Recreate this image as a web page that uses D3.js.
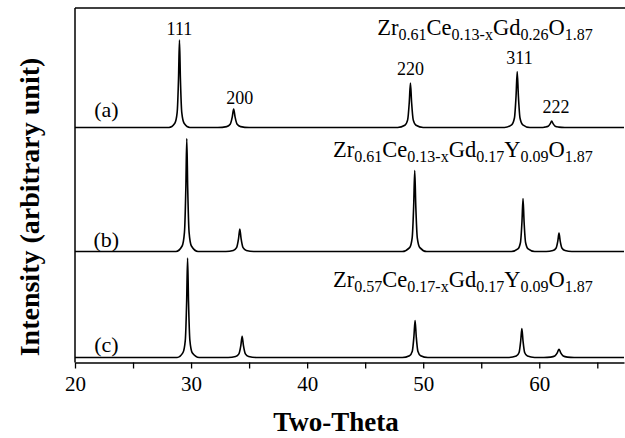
<!DOCTYPE html>
<html><head><meta charset="utf-8">
<script src="https://cdn.jsdelivr.net/npm/d3@7"></script>
<style>
body{margin:0;background:#fff}
svg{display:block}
text{font-family:"Liberation Serif","Times New Roman",Times,serif;fill:#000}
</style>
</head><body>
<svg id="chart" width="625" height="438"></svg>
<script>
// ---- data ----
const xTicks = [20,25,30,35,40,45,50,55,60,65];
const xTickLabels = ["20","","30","","40","","50","","60",""];
const xDomain = [20, 67.3];
const yDomain = [0, 354.5];
const seriesNames = ["(a)","(b)","(c)"];
const offsets = [235, 111, 5];          // vertical stacking offset of each pattern
const nameLevels = [11, 4.5, 6];        // label height above each baseline
const hkl = ["111","200","220","311","222"];
const hklLabelX = [29.0, 34.2, 48.9, 58.3, 61.45];
const hklLabelLevel = [92.5, 23.5, 52.5, 63.5, 15];
const formulaA = [["Zr","0.61"],["Ce","0.13-x"],["Gd","0.26"],["O","1.87"]];
const formulaB = [["Zr","0.61"],["Ce","0.13-x"],["Gd","0.17"],["Y","0.09"],["O","1.87"]];
const formulaC = [["Zr","0.57"],["Ce","0.17-x"],["Gd","0.17"],["Y","0.09"],["O","1.87"]];
const formulaLevels = [92.5, 94.5, 70.5];

const seriesA = [
[20,0],
[28.1,0],[28.6,4.2],[28.8,14.8],[28.92,49.2],[29.0,87.5],[29.08,49.2],[29.2,14.8],[29.4,4.2],[29.9,0],
[32.3,0],[33.07,0.9],[33.37,3.2],[33.55,10.6],[33.67,18.5],[33.79,10.6],[33.97,3.2],[34.27,0.9],[35.0,0],
[47.8,0],[48.42,2.2],[48.66,7.6],[48.8,25.2],[48.9,44.5],[49.0,25.2],[49.14,7.6],[49.38,2.2],[50.0,0],
[57.0,0],[57.62,2.7],[57.86,9.5],[58.0,31.6],[58.1,56],[58.2,31.6],[58.34,9.5],[58.58,2.7],[59.2,0],
[60.2,0],[60.47,0.4],[60.77,1.2],[60.95,3.9],[61.07,6.5],[61.19,3.9],[61.37,1.2],[61.67,0.4],[62.2,0],
[67.3,0]
];
const seriesB = [
[20,0],
[28.7,0],[29.23,5.5],[29.43,19.1],[29.55,63.6],[29.63,113],[29.71,63.6],[29.83,19.1],[30.03,5.5],[30.6,0],
[33.0,0],[33.64,1.1],[33.92,3.9],[34.09,12.9],[34.2,22.5],[34.31,12.9],[34.48,3.9],[34.76,1.1],[35.4,0],
[48.2,0],[48.83,3.9],[49.05,13.7],[49.18,45.7],[49.27,81],[49.36,45.7],[49.49,13.7],[49.71,3.9],[50.3,0],
[57.6,0],[58.16,2.6],[58.38,9.0],[58.51,30.0],[58.6,53],[58.69,30.0],[58.82,9.0],[59.04,2.6],[59.6,0],
[60.6,0],[61.18,0.9],[61.44,3.2],[61.6,10.6],[61.7,18.5],[61.8,10.6],[61.96,3.2],[62.22,0.9],[62.8,0],
[67.3,0]
];
const seriesC = [
[20,0],
[28.8,0],[29.3,4.8],[29.5,16.8],[29.62,56.0],[29.7,99.5],[29.78,56.0],[29.9,16.8],[30.1,4.8],[30.7,0],
[33.2,0],[33.84,1.0],[34.12,3.7],[34.29,12.2],[34.4,21.2],[34.51,12.2],[34.68,3.7],[34.96,1.0],[35.6,0],
[48.2,0],[48.82,1.8],[49.06,6.3],[49.2,21.0],[49.3,37],[49.4,21.0],[49.54,6.3],[49.78,1.8],[50.4,0],
[57.4,0],[58.02,1.4],[58.26,5.0],[58.4,16.5],[58.5,29],[58.6,16.5],[58.74,5.0],[58.98,1.4],[59.6,0],
[60.4,0],[60.98,0.4],[61.34,1.5],[61.56,4.9],[61.7,8.3],[61.84,4.9],[62.06,1.5],[62.42,0.4],[63.0,0],
[67.3,0]
];
const allSeries = [seriesA, seriesB, seriesC];
const formulas = [formulaA, formulaB, formulaC];

// ---- layout ----
const svg = d3.select("#chart");
const serif = '"Liberation Serif","Times New Roman",Times,serif';
const mLeft = 75, mRight = 624, mTop = 8, mBottom = 362.5;
const x = d3.scaleLinear().domain(xDomain).range([mLeft, mRight]);
const y = d3.scaleLinear().domain(yDomain).range([mBottom, mTop]);

// frame: top and left lines
svg.append("line").attr("x1", mLeft).attr("x2", 625).attr("y1", mTop).attr("y2", mTop)
  .attr("stroke", "#000").attr("stroke-width", 1.5);
svg.append("line").attr("x1", mLeft).attr("x2", mLeft).attr("y1", mTop).attr("y2", mBottom)
  .attr("stroke", "#000").attr("stroke-width", 1.5);

// bottom axis
const ax = svg.append("g").attr("transform", `translate(0,${mBottom})`)
  .call(d3.axisBottom(x).tickValues(xTicks).tickSize(6).tickSizeOuter(0).tickPadding(8)
    .tickFormat((d, i) => xTickLabels[i]))
  .attr("font-family", serif).attr("font-size", 21);
ax.select(".domain").attr("stroke-width", 1.5);
ax.selectAll(".tick line").attr("stroke-width", 1.3);
ax.selectAll(".tick text").attr("font-size", 21).attr("font-family", serif);

// patterns
const line = d3.line().curve(d3.curveMonotoneX);
allSeries.forEach((s, k) => {
  line.x(d => x(d[0])).y(d => y(d[1] + offsets[k]));
  svg.append("path").attr("d", line(s)).attr("fill", "none")
    .attr("stroke", "#000").attr("stroke-width", 1.6).attr("stroke-linejoin", "round");
  svg.append("text").attr("x", x(22.7)).attr("y", y(offsets[k] + nameLevels[k]))
    .attr("text-anchor", "middle").attr("font-size", 22).text(seriesNames[k]);
  const t = svg.append("text").attr("x", x(64.6)).attr("y", y(offsets[k] + formulaLevels[k]))
    .attr("text-anchor", "end").attr("font-size", 22.5);
  formulas[k].forEach(([el, sub], i) => {
    t.append("tspan").attr("dy", i === 0 ? 0 : -5).text(el);
    t.append("tspan").attr("font-size", 16).attr("dy", 5).text(sub);
  });
});

// hkl labels for pattern (a)
hkl.forEach((h, i) => {
  svg.append("text").attr("x", x(hklLabelX[i])).attr("y", y(offsets[0] + hklLabelLevel[i]))
    .attr("text-anchor", "middle").attr("font-size", 18).text(h);
});

// axis titles
svg.append("text").attr("x", 336).attr("y", 431).attr("text-anchor", "middle")
  .attr("font-size", 27).attr("font-weight", "bold").text("Two-Theta");
svg.append("text").attr("transform", "translate(39,207) rotate(-90)").attr("text-anchor", "middle")
  .attr("font-size", 28).attr("font-weight", "bold").text("Intensity (arbitrary unit)");
</script>
</body></html>
